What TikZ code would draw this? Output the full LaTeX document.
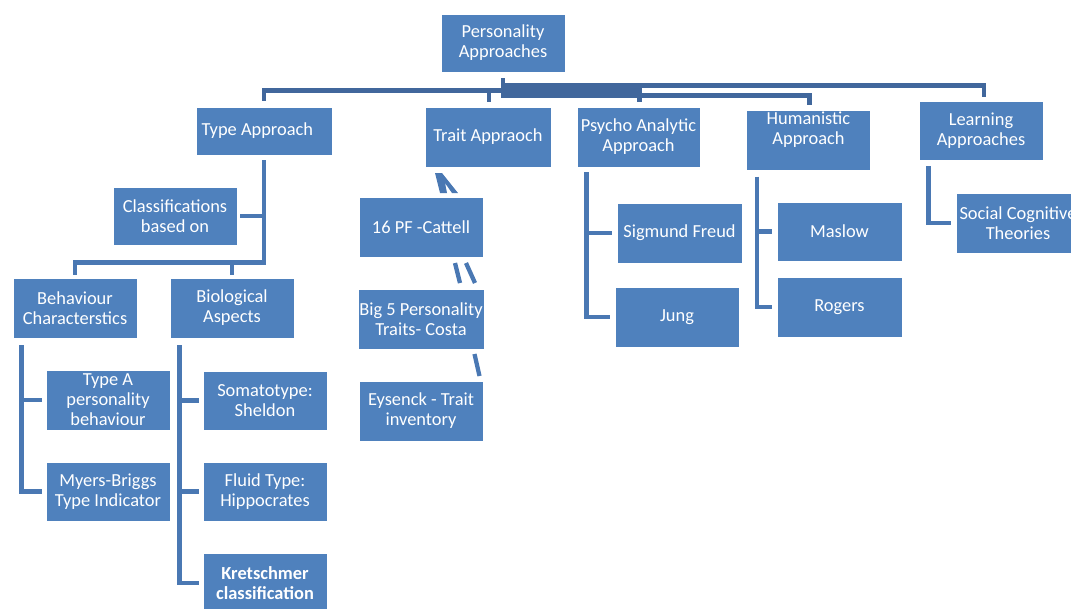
\documentclass[tikz,border=0pt]{standalone}
\usepackage{fontspec}
\setmainfont{Carlito}
\usepackage{tikz}
\usetikzlibrary{positioning, calc}
\definecolor{BoxBlue}{HTML}{4F81BD}
\definecolor{LinkBlue}{HTML}{4A78B3}
\definecolor{TopBlue}{HTML}{41679C}

\begin{document}
\begin{tikzpicture}[
            x=0.75pt, y=-0.75pt,
            font=\fontsize{13.8}{15}\selectfont,
            box/.style={
                rectangle, draw=white, line width=0.6pt, fill=BoxBlue,
                text=white, align=center, inner sep=1pt,
                minimum width=93pt, minimum height=45pt
            },
            link/.style={draw=LinkBlue, line width=3.4pt},
            toplink/.style={draw=TopBlue, line width=3.6pt},
            glitch/.style={draw=LinkBlue, line width=3.2pt}
        ]
        \useasboundingbox (0,0) rectangle (1071,608);

        % --- Root and first level ---
        \node[box, minimum height=43.5pt] (pa) at (503,43) {Personality\\Approaches};
        \node[box, minimum width=102pt, minimum height=36pt] (type) at (264,131) {Type Approach\hspace*{10pt}};
        \node[box, minimum width=94.5pt] (trait) at (488,137) {Trait Appraoch};
        \node[box, minimum width=92.25pt] (psycho) at (638.5,137) {Psycho Analytic\\Approach};
        \node[box, minimum height=44.25pt] (human) at (808.5,140.5) {Humanistic\\Approach\\[3pt]};
        \node[box, minimum height=44.25pt] (learn) at (981,130.5) {Learning\\Approaches};

        % --- Type approach subtree ---
        \node[box, minimum height=43.5pt] (class) at (175,216) {Classifications\\based on};
        \node[box] (behav) at (75,308) {Behaviour\\Characterstics};
        \node[box] (bio) at (232,308) {Biological\\Aspects};
        \node[box] (typea) at (108,400) {Type A\\personality\\behaviour};
        \node[box, minimum height=44.25pt] (mbti) at (108,491.5) {Myers-Briggs\\Type Indicator};
        \node[box, minimum height=44.25pt] (soma) at (265,400.5) {Somatotype:\\Sheldon};
        \node[box, minimum height=44.25pt] (fluid) at (265,491.5) {Fluid Type:\\Hippocrates};
        \node[box, font=\fontsize{13.8}{15}\selectfont\bfseries] (kret) at (265,583) {Kretschmer\\classification};

        % --- Trait approach column ---
        \node[box] (pf) at (421,227) {16 PF -Cattell};
        \node[box] (bigfive) at (421,319) {Big 5 Personality\\Traits- Costa};
        \node[box] (eysenck) at (421,411) {Eysenck - Trait\\inventory};

        % --- Psycho analytic, humanistic, learning ---
        \node[box, minimum width=93.75pt] (freud) at (679.5,233) {Sigmund Freud};
        \node[box] (jung) at (677,317) {Jung};
        \node[box, minimum width=93.75pt, minimum height=44.25pt] (maslow) at (839.5,231.5) {Maslow};
        \node[box, minimum width=93.75pt] (rogers) at (839.5,307) {Rogers};
        \node[box] (social) at (1018,223) {Social Cognitive\\Theories};

        % --- Top level links ---
        \draw[toplink] ([shift={(0,6)}]pa.south) -- ++(0,7) -| ([shift={(3,-4)}]learn.north);
        \draw[toplink] ([shift={(0,6)}]pa.south) -- ++(0,17) -| ([shift={(1,-5)}]human.north);
        \draw[toplink] ([shift={(0,6)}]pa.south) -- ++(0,12) -| ([shift={(0,-6)}]type.north);
        \draw[toplink] ([shift={(0,6)}]pa.south) -- ++(0,12) -| ([shift={(1,-5)}]psycho.north);
        \draw[toplink] ([shift={(1,-5)}]trait.north) -- ++(0,-12);

        % --- Type approach links ---
        \draw[link] ([shift={(0,5)}]type.south) -- ++(0,102) -| ([shift={(0,-3)}]behav.north);
        \draw[link] ([shift={(0,-3)}]bio.north) -- ++(0,-13);
        \draw[link] ([shift={(3,0)}]class.east) -- (class.east -| type.south);
        \draw[link] ([shift={(9,7)}]behav.south west) |- ([shift={(-4,0)}]mbti.west);
        \draw[link] ([shift={(-4,0)}]typea.west) -- ++(-20,0);
        \draw[link] ([shift={(10,7)}]bio.south west) |- ([shift={(-4,0)}]kret.west);
        \draw[link] ([shift={(-4,0)}]soma.west) -- ++(-19,0);
        \draw[link] ([shift={(-4,0)}]fluid.west) -- ++(-19,0);

        % --- broken trait links ---
        \fill[LinkBlue] (435,173) -- (442,173) -- (458,193) -- (452,193) -- (445,183) -- (447,193) -- (440,193) -- cycle;
        \draw[glitch] (455,263) -- (460,283);
        \draw[glitch] (466,263) -- (475,283);
        \draw[glitch] (474.5,354) -- (479.5,376);

        % --- Other branches ---
        \draw[link] ([shift={(10,5)}]psycho.south west) |- ([shift={(-5,0)}]jung.west);
        \draw[link] ([shift={(-5,0)}]freud.west) -- ++(-25,0);
        \draw[link] ([shift={(11,6)}]human.south west) |- ([shift={(-5,0)}]rogers.west);
        \draw[link] ([shift={(-5,0)}]maslow.west) -- ++(-15,0);
        \draw[link] ([shift={(10,6)}]learn.south west) |- ([shift={(-5,0)}]social.west);

        \end{tikzpicture}
\end{document}
